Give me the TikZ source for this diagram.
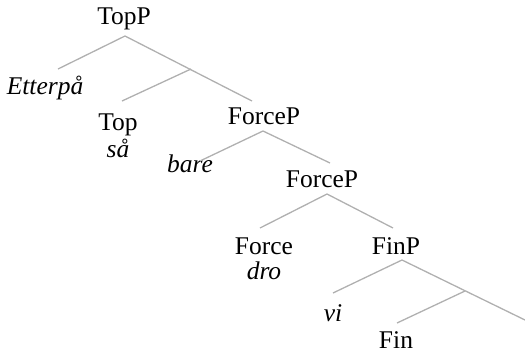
\documentclass[tikz,border=0pt]{standalone}
\usepackage{fontspec}
\setmainfont{Liberation Serif}
\definecolor{branch}{HTML}{B0B0B0}
\begin{document}
\begin{tikzpicture}[x=1pt,y=-1pt,
  lbl/.style={inner sep=0pt,anchor=base,font=\fontsize{25.5}{30}\selectfont},
  it/.style={lbl,font=\fontsize{25.5}{30}\selectfont\itshape},
  br/.style={draw=branch,line width=1.3pt}]
\useasboundingbox (0,0) rectangle (525,354);
% labels
\node[lbl] (topp) at (124,24) {TopP};
\node[it] (etter) at (45,94) {Etterpå};
\node[lbl] (top) at (118,130) {Top};
\node[it] (saa) at (118,157) {så};
\node[lbl] (forcep1) at (264,124) {ForceP};
\node[it] (bare) at (190,172) {bare};
\node[lbl] (forcep2) at (322,187) {ForceP};
\node[lbl] (force) at (264,254) {Force};
\node[it] (dro) at (264,279) {dro};
\node[lbl] (finp) at (396,254) {FinP};
\node[it] (vi) at (333,321) {vi};
\node[lbl] (fin) at (396,348) {Fin};
% branch points
\coordinate (a1) at (125,36);
\coordinate (a1l) at (58,69);
\coordinate (a1r) at (252,101);
\coordinate (j1) at (191,69);
\coordinate (j1l) at (122,101);
\coordinate (a2) at (263,131);
\coordinate (a2l) at (200,161);
\coordinate (a2r) at (330,163);
\coordinate (a3) at (327,194);
\coordinate (a3l) at (260,228);
\coordinate (a3r) at (393,228);
\coordinate (a4) at (402,260);
\coordinate (a4l) at (333,293);
\coordinate (a4r) at (525,320);
\coordinate (j4) at (465,291);
\coordinate (j4l) at (397,323);
% branches
\draw[br] (a1l) -- (a1) -- (a1r);
\draw[br] (j1) -- (j1l);
\draw[br] (a2l) -- (a2) -- (a2r);
\draw[br] (a3l) -- (a3) -- (a3r);
\draw[br] (a4l) -- (a4) -- (a4r);
\draw[br] (j4) -- (j4l);
\end{tikzpicture}
\end{document}
